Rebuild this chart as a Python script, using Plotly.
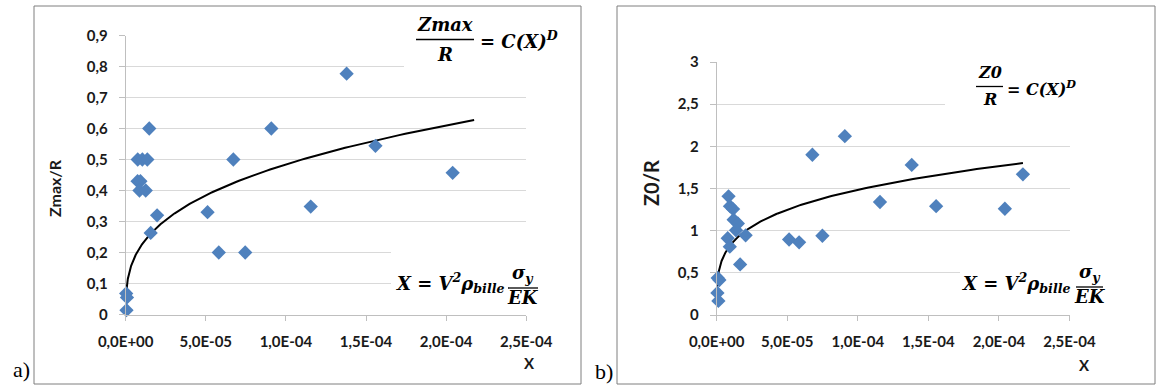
import numpy as np
import plotly.graph_objects as go

# ---------------- data ----------------
# panel a) Zmax/R versus X
xa = [3e-7, 8e-7, 5e-7, 1.47e-5, 7.5e-6, 1.04e-5, 1.35e-5, 7.4e-6, 9.2e-6, 8.6e-6, 1.25e-5,
      1.96e-5, 1.56e-5, 5.11e-5, 5.81e-5, 6.72e-5, 7.46e-5, 9.09e-5, 1.155e-4, 1.379e-4,
      1.559e-4, 2.041e-4]
ya = [0.068, 0.055, 0.014, 0.60, 0.50, 0.50, 0.50, 0.43, 0.43, 0.40, 0.40,
      0.32, 0.263, 0.33, 0.20, 0.50, 0.20, 0.60, 0.348, 0.777,
      0.544, 0.457]
# panel b) Z0/R versus X
xb = [7e-7, 1.9e-6, 5e-7, 1.2e-6, 8.4e-6, 9.4e-6, 1.16e-5, 1.2e-5, 1.5e-5, 1.37e-5, 7.8e-6,
      9.3e-6, 1.66e-5, 2.05e-5, 5.13e-5, 5.84e-5, 6.78e-5, 7.49e-5, 9.08e-5, 1.157e-4,
      1.382e-4, 1.555e-4, 2.042e-4, 2.17e-4]
yb = [0.44, 0.415, 0.262, 0.167, 1.407, 1.29, 1.256, 1.13, 1.085, 1.005, 0.91,
      0.81, 0.60, 0.945, 0.895, 0.862, 1.90, 0.94, 2.12, 1.34,
      1.78, 1.29, 1.26, 1.668]

# power-law trendlines  y = C * X^D  (constants)
Ca, Da, xa_fit_range = 10.4, 0.333, (3e-7, 2.175e-4)
Cb, Db, xb_fit_range = 14.85, 0.25, (2e-7, 2.17e-4)

x_tickvals = [0, 5e-5, 1e-4, 1.5e-4, 2e-4, 2.5e-4]
x_ticktext = ["0,0E+00", "5,0E-05", "1,0E-04", "1,5E-04", "2,0E-04", "2,5E-04"]
ya_tickvals = [0, 0.1, 0.2, 0.3, 0.4, 0.5, 0.6, 0.7, 0.8, 0.9]
ya_ticktext = ["0", "0,1", "0,2", "0,3", "0,4", "0,5", "0,6", "0,7", "0,8", "0,9"]
yb_tickvals = [0, 0.5, 1, 1.5, 2, 2.5, 3]
yb_ticktext = ["0", "0,5", "1", "1,5", "2", "2,5", "3"]

# ---------------- layout helpers ----------------
W, H = 1158, 387
def px(x):
    return x / W
def py(y):
    return 1 - y / H

BLUE = "#4F81BD"
GRID = "#D9D9D9"
AXL = "#BFBFBF"
TICKFONT = dict(family="Lato", size=15, color="#1a1a1a", weight="bold")
MATH = "DejaVu Serif"

fig = go.Figure()

xfa = np.geomspace(*xa_fit_range, 300)
xfb = np.geomspace(*xb_fit_range, 300)

fig.add_trace(go.Scatter(x=xfa, y=Ca * xfa ** Da, mode="lines",
                         line=dict(color="black", width=2), xaxis="x", yaxis="y",
                         cliponaxis=False, hoverinfo="skip"))
fig.add_trace(go.Scatter(x=xa, y=ya, mode="markers",
                         marker=dict(symbol="diamond", size=11, color=BLUE),
                         xaxis="x", yaxis="y", cliponaxis=False))
fig.add_trace(go.Scatter(x=xfb, y=Cb * xfb ** Db, mode="lines",
                         line=dict(color="black", width=2), xaxis="x2", yaxis="y2",
                         cliponaxis=False, hoverinfo="skip"))
fig.add_trace(go.Scatter(x=xb, y=yb, mode="markers",
                         marker=dict(symbol="diamond", size=11, color=BLUE),
                         xaxis="x2", yaxis="y2", cliponaxis=False))

common_x = dict(range=[0, 2.5e-4], tickvals=x_tickvals, ticktext=x_ticktext,
                showgrid=False, zeroline=False, showline=True, linecolor=AXL,
                ticks="outside", ticklen=5, tickcolor=AXL, tickfont=TICKFONT,
                ticklabelstandoff=8, fixedrange=True, automargin=False)
common_y = dict(showgrid=True, gridcolor=GRID, gridwidth=1, zeroline=False,
                showline=True, linecolor=AXL, ticks="outside", ticklen=6,
                tickcolor=AXL, tickfont=TICKFONT, ticklabelstandoff=8, fixedrange=True,
                automargin=False)

fig.update_layout(
    template="none",
    width=W, height=H, margin=dict(l=0, r=0, t=0, b=0, pad=0, autoexpand=False),
    paper_bgcolor="white", plot_bgcolor="white", showlegend=False,
    xaxis=dict(domain=[px(125.7), px(526.2)], anchor="y", **common_x),
    yaxis=dict(domain=[py(314.5), py(35.5)], range=[0, 0.9], anchor="x",
               tickvals=ya_tickvals, ticktext=ya_ticktext, **common_y),
    xaxis2=dict(domain=[px(716.7), px(1069.5)], anchor="y2", **common_x),
    yaxis2=dict(domain=[py(315), py(62)], range=[0, 3], anchor="x2",
                tickvals=yb_tickvals, ticktext=yb_ticktext, **common_y),
)

shapes = []
def rect(x0, y0, x1, y1, fill=None, line=None):
    shapes.append(dict(type="rect", xref="paper", yref="paper",
                       x0=px(x0), x1=px(x1), y0=py(y1), y1=py(y0),
                       fillcolor=fill if fill else "rgba(0,0,0,0)",
                       line=dict(width=1 if line else 0, color=line if line else "white"),
                       layer="above"))
def hline(x0, x1, y, w=1.5):
    shapes.append(dict(type="line", xref="paper", yref="paper",
                       x0=px(x0), x1=px(x1), y0=py(y), y1=py(y),
                       line=dict(color="black", width=w), layer="above"))

# white text boxes hiding the gridlines behind the formulas
rect(404, 12, 572, 76, fill="white")
rect(391, 240, 548, 302, fill="white")
rect(945, 50, 1105, 118, fill="white")
rect(960, 250, 1110, 305, fill="white")
# outer frames
rect(34, 6, 581, 384, line="#7F7F7F")
rect(617, 6, 1155, 384, line="#7F7F7F")
# fraction bars
hline(416, 474, 39.5)
hline(976, 1003, 86.5, 1.3)
hline(508, 538, 288, 1.3)
hline(1076, 1103, 287, 1.3)
fig.update_layout(shapes=shapes)

ann = []
def text(x, y, s, size, family=MATH, xanchor="center", angle=0, bold=True,
         italic=True, color="black"):
    ann.append(dict(x=px(x), y=py(y), xref="paper", yref="paper", text=s,
                    showarrow=False, xanchor=xanchor, yanchor="middle",
                    textangle=angle,
                    font=dict(family=family, size=size, color=color,
                              weight="bold" if bold else "normal",
                              style="italic" if italic else "normal")))

# formulas panel a
text(445, 25, "Zmax", 18)
text(445, 54, "R", 18)
text(478, 40, "= C(X)<sup>D</sup>", 18, xanchor="left")
text(506, 283, "X = V<sup>2</sup>ρ<sub>bille</sub>", 18, xanchor="right")
text(523, 274, "σ<sub>y</sub>", 18)
text(523, 297, "EK", 18)
# formulas panel b
text(990, 73, "Z0", 16)
text(990, 99, "R", 16)
text(1005, 88, "= C(X)<sup>D</sup>", 16, xanchor="left")
text(1072, 283, "X = V<sup>2</sup>ρ<sub>bille</sub>", 18, xanchor="right")
text(1090, 273, "σ<sub>y</sub>", 18)
text(1090, 296, "EK", 18)
# axis titles
text(54, 188, "Zmax/R", 16, family="Lato", angle=-90, italic=False, color="#1a1a1a")
text(651, 183, "Z0/R", 20, family="Lato", angle=-90, italic=False, color="#1a1a1a")
text(529, 363, "X", 15, family="Lato", italic=False, color="#1a1a1a")
text(1084, 365, "X", 15, family="Lato", italic=False, color="#1a1a1a")
# panel letters
text(21, 369, "a)", 22, family="Liberation Serif", bold=False, italic=False)
text(604, 371, "b)", 22, family="Liberation Serif", bold=False, italic=False)
fig.update_layout(annotations=ann)

fig.write_html("out.html",
               config={"displayModeBar": False, "staticPlot": True},
               post_script="document.body.style.margin='0';document.body.style.padding='0';")
